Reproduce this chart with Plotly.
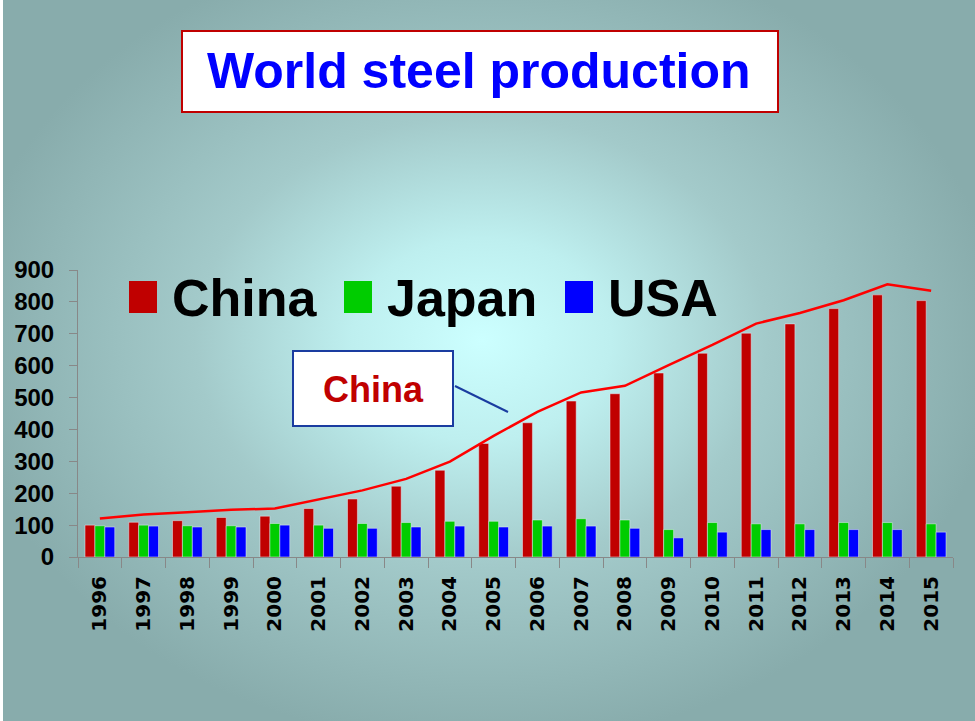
import base64
import plotly.graph_objects as go

years = [str(y) for y in range(1996, 2016)]
china = [100, 109, 114, 124, 128, 152, 182, 222, 272, 356, 421, 489, 512, 577, 639, 702, 731, 779, 822, 804]
japan = [98, 100, 98, 98, 105, 100, 105, 108, 112, 112, 116, 120, 116, 86, 108, 104, 104, 108, 108, 104]
usa = [94, 97, 94, 94, 100, 90, 90, 94, 97, 94, 97, 97, 90, 60, 78, 86, 86, 86, 86, 78]
china_line = [121, 133, 140, 148, 152, 180, 209, 245, 299, 380, 455, 516, 537, 602, 665, 732, 765, 805, 855, 835]
y_ticks = [0, 100, 200, 300, 400, 500, 600, 700, 800, 900]

W, H = 975, 721
L, R, T, B = 78, 22, 270, 164
PW, PH = W - L - R, H - T - B


def px(x):
    return (x - L) / PW


def py(y):
    return (H - B - y) / PH


svg = f'''<svg xmlns="http://www.w3.org/2000/svg" width="{W}" height="{H}" viewBox="0 0 {W} {H}" preserveAspectRatio="none">
<defs><radialGradient id="g" cx="480" cy="340" r="520" gradientUnits="userSpaceOnUse" gradientTransform="translate(480 340) scale(1 0.78) translate(-480 -340)">
<stop offset="0" stop-color="#CCFFFF"/>
<stop offset="0.25" stop-color="#BEEFEF"/>
<stop offset="0.55" stop-color="#A3CACA"/>
<stop offset="1" stop-color="#88ACAC"/>
</radialGradient></defs>
<rect x="0" y="0" width="{W}" height="{H}" fill="url(#g)"/></svg>'''
src = "data:image/svg+xml;base64," + base64.b64encode(svg.encode()).decode()

fig = go.Figure()
fig.add_trace(go.Bar(x=years, y=china, name="China", marker=dict(color="#C00000")))
fig.add_trace(go.Bar(x=years, y=japan, name="Japan", marker=dict(color="#00CC00")))
fig.add_trace(go.Bar(x=years, y=usa, name="USA", marker=dict(color="#0000FF")))
fig.add_trace(go.Scatter(x=years, y=china_line, mode="lines", name="China line",
                         line=dict(color="#FF0000", width=2.5)))

shapes = []
annotations = []

# title box
shapes.append(dict(type="rect", xref="paper", yref="paper", x0=px(182), x1=px(778), y0=py(112), y1=py(31),
                   fillcolor="white", line=dict(color="#C00000", width=2)))
annotations.append(dict(xref="paper", yref="paper", x=px(479), y=py(71), text="<b>World steel production</b>",
                        showarrow=False, xanchor="center", yanchor="middle",
                        font=dict(family="Liberation Sans", size=50, color="#0000FF")))

# legend
for (x0, label, col) in [(129, "China", "#C00000"), (344, "Japan", "#00CC00"), (565, "USA", "#0000FF")]:
    shapes.append(dict(type="rect", xref="paper", yref="paper", x0=px(x0), x1=px(x0 + 28), y0=py(313), y1=py(281),
                       fillcolor=col, line=dict(width=0)))
    annotations.append(dict(xref="paper", yref="paper", x=px(x0 + 41), y=py(298), text=f"<b>{label}</b>",
                            showarrow=False, xanchor="left", yanchor="middle",
                            font=dict(family="Liberation Sans", size=52, color="black")))

# callout
shapes.append(dict(type="line", xref="paper", yref="paper", x0=px(455), y0=py(386), x1=px(508), y1=py(412),
                   line=dict(color="#1A3CA0", width=2)))
shapes.append(dict(type="rect", xref="paper", yref="paper", x0=px(293), x1=px(453), y0=py(426), y1=py(351),
                   fillcolor="white", line=dict(color="#1A3CA0", width=2)))
annotations.append(dict(xref="paper", yref="paper", x=px(373), y=py(389), text="<b>China</b>",
                        showarrow=False, xanchor="center", yanchor="middle",
                        font=dict(family="Liberation Sans", size=36, color="#C00000")))

fig.update_layout(
    width=W, height=H, autosize=False,
    margin=dict(l=L, r=R, t=T, b=B, pad=0),
    paper_bgcolor="white", plot_bgcolor="rgba(0,0,0,0)",
    barmode="group", bargap=0.32, bargroupgap=0,
    showlegend=False,
    shapes=shapes, annotations=annotations,
    images=[dict(source=src, xref="paper", yref="paper", x=px(3), y=py(0), sizex=(W - 3) / PW, sizey=H / PH,
                 xanchor="left", yanchor="top", sizing="stretch", layer="below")],
    xaxis=dict(type="category", tickson="boundaries", ticks="outside", ticklen=10, tickcolor="#888888",
               showline=True, linecolor="#888888", linewidth=1, showgrid=False, tickangle=-90,
               ticklabelstandoff=10,
               tickfont=dict(family="DejaVu Sans", size=20, color="black", weight="bold")),
    yaxis=dict(range=[0, 900], tickvals=y_ticks, ticks="outside", ticklen=8, tickcolor="#888888",
               showline=True, linecolor="#888888", linewidth=1, showgrid=False, zeroline=False,
               ticklabelstandoff=10,
               tickfont=dict(family="Liberation Sans", size=24, color="black", weight="bold")),
)

fig.write_html("out.html", config={"displayModeBar": False},
               post_script="document.body.style.margin='0';document.body.style.overflow='hidden';")
